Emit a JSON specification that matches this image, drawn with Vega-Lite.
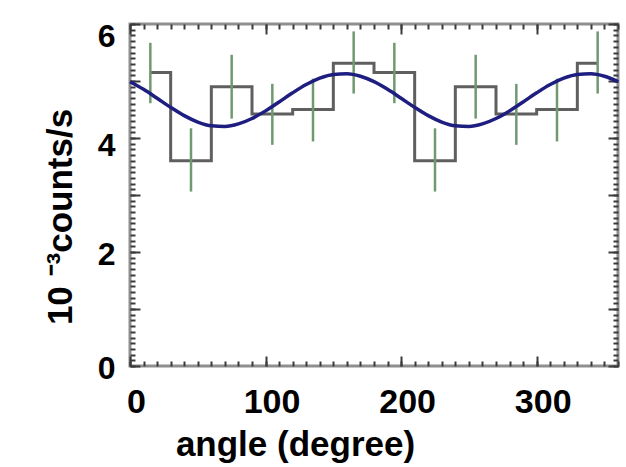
{
  "$schema": "https://vega.github.io/schema/vega-lite/v6.json",
  "width": 488,
  "height": 342,
  "autosize": {"type": "none"},
  "padding": {"left": 130, "top": 24, "right": 8, "bottom": 101},
  "background": "white",
  "datasets": {
    "hist": [
      {"angle": 15, "rate": 5.15, "lo": 4.61, "hi": 5.67},
      {"angle": 45, "rate": 3.60, "lo": 3.06, "hi": 4.17},
      {"angle": 75, "rate": 4.90, "lo": 4.34, "hi": 5.46},
      {"angle": 105, "rate": 4.42, "lo": 3.88, "hi": 4.95},
      {"angle": 135, "rate": 4.50, "lo": 3.94, "hi": 5.04},
      {"angle": 165, "rate": 5.31, "lo": 4.78, "hi": 5.87},
      {"angle": 195, "rate": 5.15, "lo": 4.61, "hi": 5.67},
      {"angle": 225, "rate": 3.60, "lo": 3.06, "hi": 4.17},
      {"angle": 255, "rate": 4.90, "lo": 4.34, "hi": 5.46},
      {"angle": 285, "rate": 4.42, "lo": 3.88, "hi": 4.95},
      {"angle": 315, "rate": 4.50, "lo": 3.94, "hi": 5.04},
      {"angle": 345, "rate": 5.31, "lo": 4.78, "hi": 5.87}
    ],
    "fit": [
      {"angle": 0, "fit": 4.988}, {"angle": 10, "fit": 4.854}, {"angle": 20, "fit": 4.697},
      {"angle": 30, "fit": 4.537}, {"angle": 40, "fit": 4.392}, {"angle": 50, "fit": 4.280},
      {"angle": 60, "fit": 4.214}, {"angle": 70, "fit": 4.203}, {"angle": 80, "fit": 4.247},
      {"angle": 90, "fit": 4.342}, {"angle": 100, "fit": 4.476}, {"angle": 110, "fit": 4.633},
      {"angle": 120, "fit": 4.793}, {"angle": 130, "fit": 4.938}, {"angle": 140, "fit": 5.050},
      {"angle": 150, "fit": 5.116}, {"angle": 160, "fit": 5.127}, {"angle": 170, "fit": 5.083},
      {"angle": 180, "fit": 4.988}, {"angle": 190, "fit": 4.854}, {"angle": 200, "fit": 4.697},
      {"angle": 210, "fit": 4.537}, {"angle": 220, "fit": 4.392}, {"angle": 230, "fit": 4.280},
      {"angle": 240, "fit": 4.214}, {"angle": 250, "fit": 4.203}, {"angle": 260, "fit": 4.247},
      {"angle": 270, "fit": 4.342}, {"angle": 280, "fit": 4.476}, {"angle": 290, "fit": 4.633},
      {"angle": 300, "fit": 4.793}, {"angle": 310, "fit": 4.938}, {"angle": 320, "fit": 5.050},
      {"angle": 330, "fit": 5.116}, {"angle": 340, "fit": 5.127}, {"angle": 350, "fit": 5.083},
      {"angle": 360, "fit": 4.988}
    ]
  },
  "layer": [
    {
      "data": {"name": "fit"},
      "mark": {"type": "line", "strokeOpacity": 0},
      "encoding": {
        "x": {"field": "angle", "type": "quantitative", "scale": {"domain": [0, 360], "nice": false, "zero": false},
          "axis": {"orient": "top", "values": [0,10,20,30,40,50,60,70,80,90,100,110,120,130,140,150,160,170,180,190,200,210,220,230,240,250,260,270,280,290,300,310,320,330,340,350,360], "tickSize": -5, "labels": false, "title": null}},
        "y": {"field": "fit", "type": "quantitative", "scale": {"domain": [0, 6], "nice": false, "zero": true},
          "axis": {"orient": "right", "values": [0,0.1,0.2,0.3,0.4,0.5,0.6,0.7,0.8,0.9,1,1.1,1.2,1.3,1.4,1.5,1.6,1.7,1.8,1.9,2,2.1,2.2,2.3,2.4,2.5,2.6,2.7,2.8,2.9,3,3.1,3.2,3.3,3.4,3.5,3.6,3.7,3.8,3.9,4,4.1,4.2,4.3,4.4,4.5,4.6,4.7,4.8,4.9,5,5.1,5.2,5.3,5.4,5.5,5.6,5.7,5.8,5.9,6], "tickSize": -5, "labels": false, "title": null}}
      }
    },
    {
      "data": {"name": "hist"},
      "mark": {"type": "line", "interpolate": "step", "color": "#5f5f5f", "strokeWidth": 3},
      "encoding": {
        "x": {"field": "angle", "type": "quantitative", "scale": {"domain": [0, 360], "nice": false, "zero": false},
          "axis": {"orient": "bottom", "values": [0, 100, 200, 300], "tickSize": -10, "labelFontSize": 34, "labelFontWeight": "bold", "labelPadding": 29.5, "labelOffset": 6, "labelFlush": false,
            "title": "angle (degree)", "titleFontSize": 35, "titleFontWeight": "bold", "titleX": 165, "titleY": 89, "titleBaseline": "alphabetic", "titleAlign": "center"}},
        "y": {"field": "rate", "type": "quantitative", "scale": {"domain": [0, 6], "nice": false, "zero": true},
          "axis": {"orient": "left", "values": [0, 1, 2, 3, 4, 5, 6], "tickSize": -10, "labelExpr": "datum.value % 2 == 0 ? datum.label : ''",
            "labelFontSize": 32, "labelFontWeight": "bold", "labelPadding": 25, "labelBaseline": "middle",
            "labelOffset": {"condition": [{"test": "datum.value == 6", "value": 12}, {"test": "datum.value == 4", "value": 7}], "value": 2},
            "title": "10 ⁻³counts/s", "titleFontSize": 35, "titleFontWeight": "bold", "titleX": -59, "titleY": 192.5, "titleAngle": 270, "titleBaseline": "alphabetic", "titleAlign": "center"}}
      }
    },
    {
      "data": {"name": "hist"},
      "mark": {"type": "rule", "color": "#6f9a6f", "strokeWidth": 2.5},
      "encoding": {
        "x": {"field": "angle", "type": "quantitative", "scale": {"domain": [0, 360], "nice": false, "zero": false},
          "axis": {"orient": "top", "values": [0, 100, 200, 300], "tickSize": -10, "labels": false, "title": null}},
        "y": {"field": "lo", "type": "quantitative", "scale": {"domain": [0, 6], "nice": false, "zero": true},
          "axis": {"orient": "right", "values": [0, 1, 2, 3, 4, 5, 6], "tickSize": -10, "labels": false, "title": null}},
        "y2": {"field": "hi"}
      }
    },
    {
      "data": {"name": "fit"},
      "mark": {"type": "line", "interpolate": "monotone", "color": "#1e1e80", "strokeWidth": 3.5},
      "encoding": {
        "x": {"field": "angle", "type": "quantitative", "scale": {"domain": [0, 360], "nice": false, "zero": false},
          "axis": {"orient": "bottom", "values": [0,10,20,30,40,50,60,70,80,90,100,110,120,130,140,150,160,170,180,190,200,210,220,230,240,250,260,270,280,290,300,310,320,330,340,350,360], "tickSize": -5, "labels": false, "title": null}},
        "y": {"field": "fit", "type": "quantitative", "scale": {"domain": [0, 6], "nice": false, "zero": true},
          "axis": {"orient": "left", "values": [0,0.1,0.2,0.3,0.4,0.5,0.6,0.7,0.8,0.9,1,1.1,1.2,1.3,1.4,1.5,1.6,1.7,1.8,1.9,2,2.1,2.2,2.3,2.4,2.5,2.6,2.7,2.8,2.9,3,3.1,3.2,3.3,3.4,3.5,3.6,3.7,3.8,3.9,4,4.1,4.2,4.3,4.4,4.5,4.6,4.7,4.8,4.9,5,5.1,5.2,5.3,5.4,5.5,5.6,5.7,5.8,5.9,6], "tickSize": -5, "labels": false, "title": null}}
      }
    }
  ],
  "resolve": {"axis": {"x": "independent", "y": "independent"}},
  "config": {
    "view": {"stroke": "#8f8f8f", "strokeWidth": 3},
    "axis": {"grid": false, "domain": false, "tickColor": "#3a3a3a", "tickWidth": 2, "labelFont": "Liberation Sans", "titleFont": "Liberation Sans", "labelColor": "#000000", "titleColor": "#000000"}
  }
}
